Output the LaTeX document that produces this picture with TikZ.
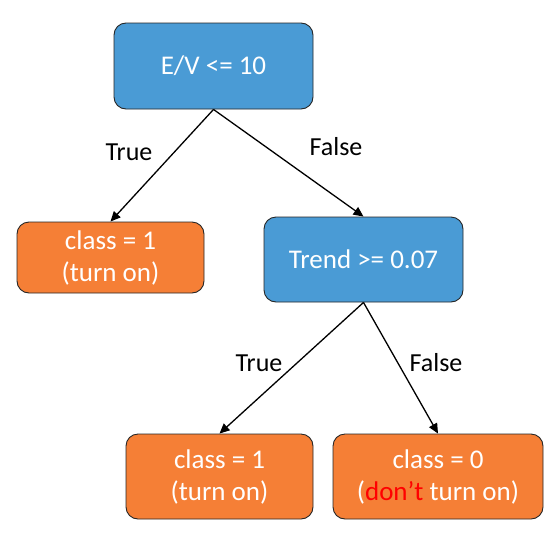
\documentclass[tikz,border=0pt]{standalone}
\usepackage{fontspec}
\setmainfont{Carlito}
\usetikzlibrary{arrows.meta}
\definecolor{boxblue}{RGB}{74,155,213}
\definecolor{boxorange}{RGB}{245,127,54}
\begin{document}
\begin{tikzpicture}[x=1pt,y=-1pt,
  box/.style={draw=black!85,line width=0.9pt,rounded corners=12pt,text=white,align=center,
    font=\fontsize{27}{32}\selectfont,inner sep=0pt},
  bluebox/.style={box,fill=boxblue},
  orangebox/.style={box,fill=boxorange},
  conn/.style={-{Triangle[length=10pt,width=9pt]},line width=1.3pt},
  lbl/.style={font=\fontsize{26}{30}\selectfont,inner sep=0pt}]
\useasboundingbox (0,0) rectangle (553,538);
\node[bluebox,minimum width=199pt,minimum height=86pt] (root) at (213.5,66) {E/V <= 10};
\node[orangebox,minimum width=187pt,minimum height=71pt] (leafa) at (110.5,257.5) {class = 1\\(turn on)};
\node[bluebox,minimum width=199pt,minimum height=85pt] (trend) at (363.5,259.5) {Trend >= 0.07};
\node[orangebox,minimum width=187pt,minimum height=85pt] (leafb) at (219.5,476.5) {class = 1\\(turn on)};
\node[orangebox,minimum width=210pt,minimum height=85pt] (leafc) at (438,476.5) {class = 0\\({\color{red}don’t} turn on)};
\draw[conn] (root.south) -- (leafa.north);
\draw[conn] (root.south) -- (trend.north);
\draw[conn] (trend.south) -- (leafb.north);
\draw[conn] (trend.south) -- (leafc.north);
\node[lbl] (t1) at (129,152) {True};
\node[lbl] (f1) at (336,147) {False};
\node[lbl] (t2) at (259,363) {True};
\node[lbl] (f2) at (436,363) {False};
\end{tikzpicture}
\end{document}
